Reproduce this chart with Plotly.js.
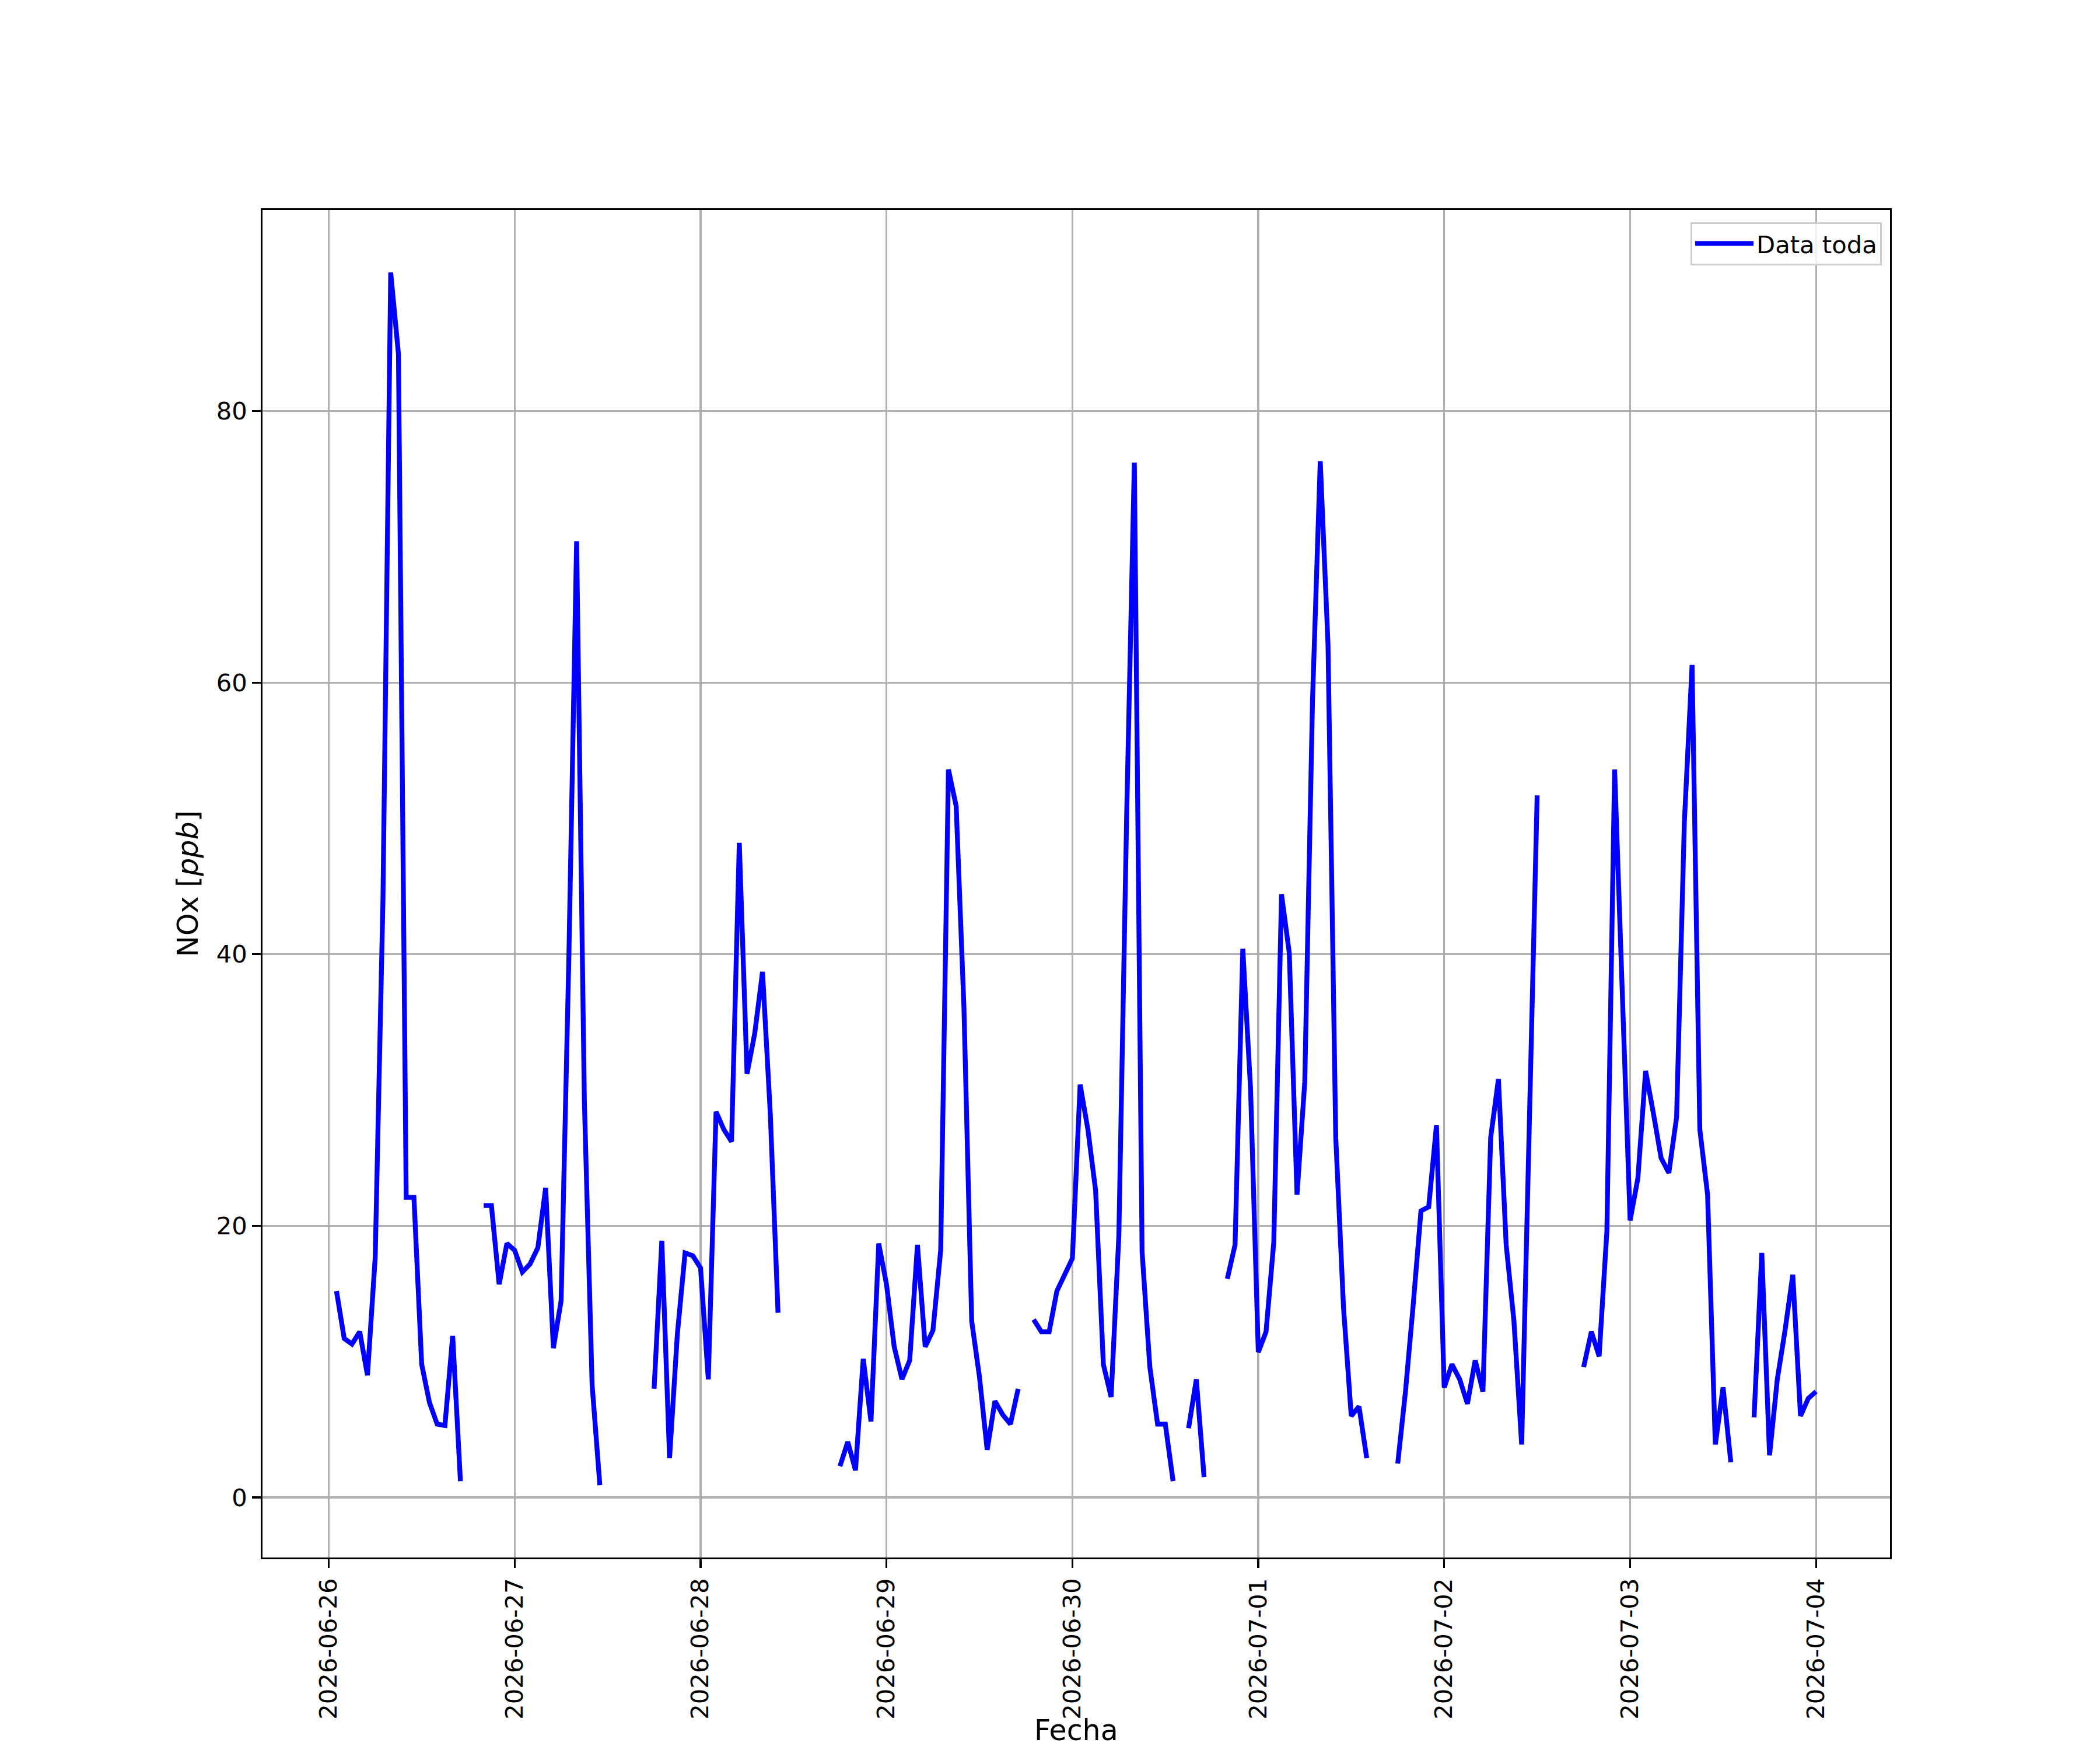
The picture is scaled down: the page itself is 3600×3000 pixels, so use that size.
<!DOCTYPE html>
<html>
<head>
<meta charset="utf-8">
<script src="https://cdn.plot.ly/plotly-3.0.1.min.js"></script>
<style>
  html, body { margin: 0; padding: 0; background: #ffffff; }
  #chart { width: 3600px; height: 3000px; }
</style>
</head>
<body>
<div id="chart"></div>
<script>
// Hourly NOx series, first sample at 2026-06-26 01:00, one value per hour (null = missing)
const seriesStart = '2026-06-26T01:00:00';
const seriesName = 'Data toda';
const noxValues = [
  // 06-26 01:00 .. 06-26 23:00
  15.2, 11.7, 11.3, 12.2, 9.0, 17.7, 44.0, 90.2, 84.2, 22.1, 22.1, 9.8,
  7.0, 5.4, 5.3, 11.9, 1.2, null, null, 21.5, 21.5, 15.7, 18.7,
  // 06-27 00:00 .. 23:00
  18.2, 16.6, 17.2, 18.4, 22.8, 11.0, 14.5, 39.8, 70.4, 29.2, 8.3, 0.9,
  null, null, null, null, null, null, 8.0, 18.9, 2.9, 12.0, 18.0, 17.8,
  // 06-28 00:00 .. 23:00
  16.9, 8.7, 28.4, 27.1, 26.2, 48.2, 31.2, 34.2, 38.7, 28.3, 13.6, null,
  null, null, null, null, null, null, 2.3, 4.1, 2.0, 10.2, 5.6, 18.7,
  // 06-29 00:00 .. 23:00
  15.7, 11.1, 8.7, 10.1, 18.6, 11.1, 12.3, 18.2, 53.6, 50.9, 36.1, 13.0,
  8.9, 3.5, 7.1, 6.1, 5.4, 8.0, null, 13.1, 12.2, 12.2, 15.2, 16.4,
  // 06-30 00:00 .. 23:00
  17.6, 30.4, 27.1, 22.6, 9.8, 7.4, 19.3, 50.0, 76.2, 18.1, 9.6, 5.4,
  5.4, 1.2, null, 5.1, 8.7, 1.5, null, null, 16.1, 18.6, 40.4, 30.1,
  // 07-01 00:00 .. 23:00
  10.7, 12.2, 18.8, 44.4, 40.1, 22.3, 30.6, 58.7, 76.3, 62.8, 26.5, 14.0,
  6.0, 6.7, 2.9, null, null, null, 2.5, 7.8, 14.2, 21.1, 21.4, 27.4,
  // 07-02 00:00 .. 23:00
  8.1, 9.8, 8.7, 6.9, 10.1, 7.8, 26.5, 30.8, 18.6, 13.0, 3.9, 28.0,
  51.7, null, null, null, null, null, 9.6, 12.2, 10.4, 19.6, 53.6, 36.1,
  // 07-03 00:00 .. 23:00
  20.4, 23.5, 31.4, 28.3, 25.0, 23.9, 28.0, 49.7, 61.3, 27.1, 22.3, 3.9,
  8.1, 2.6, null, null, 5.9, 18.0, 3.1, 8.7, 12.3, 16.4, 6.0, 7.3,
  // 07-04 00:00
  7.8
];
const xTickStart = '2026-06-26';
const xTickFormat = '%Y-%m-%d';
const yTickValues = [0, 20, 40, 60, 80];
const xAxisTitle = 'Fecha';
const yAxisTitle = 'NOx [<i>ppb</i>]';

// hourly time stamps for the samples
function pad(n) { return (n < 10 ? '0' : '') + n; }
const t0 = Date.parse(seriesStart + 'Z');
const times = noxValues.map((_, i) => {
  const d = new Date(t0 + i * 3600000);
  return d.getUTCFullYear() + '-' + pad(d.getUTCMonth() + 1) + '-' + pad(d.getUTCDate()) +
         ' ' + pad(d.getUTCHours()) + ':00:00';
});

const FONT = 'DejaVu Sans, Liberation Sans, sans-serif';

const trace = {
  type: 'scatter',
  mode: 'lines',
  x: times,
  y: noxValues,
  name: seriesName,
  connectgaps: false,
  line: { color: '#0000ff', width: 8.3 },
  showlegend: true
};

const axisCommon = {
  showline: true,
  linecolor: '#000000',
  linewidth: 3.3,
  mirror: true,
  ticks: 'outside',
  ticklen: 14.6,
  tickwidth: 3.3,
  tickcolor: '#000000',
  showgrid: true,
  gridcolor: '#b0b0b0',
  gridwidth: 3.3,
  zeroline: false,
  tickfont: { family: FONT, size: 41.7, color: '#000000' }
};

const layout = {
  width: 3600,
  height: 3000,
  margin: { l: 450, r: 360, t: 360, b: 330, pad: 0 },
  paper_bgcolor: '#ffffff',
  plot_bgcolor: '#ffffff',
  font: { family: FONT, color: '#000000' },
  xaxis: Object.assign({}, axisCommon, {
    type: 'date',
    range: ['2026-06-25 15:27:00', '2026-07-04 09:33:00'],
    tickmode: 'linear',
    tick0: xTickStart,
    dtick: 86400000,
    tickformat: xTickFormat,
    tickangle: -90,
    ticklabelstandoff: 1
  }),
  yaxis: Object.assign({}, axisCommon, {
    range: [-4.42, 94.8],
    tickmode: 'array',
    tickvals: yTickValues,
    ticktext: yTickValues.map(String),
    ticklabelstandoff: 0,
    title: { text: yAxisTitle, font: { family: FONT, size: 49, color: '#000000' }, standoff: 16 }
  }),
  annotations: [{
    text: xAxisTitle,
    xref: 'paper', yref: 'paper',
    x: 0.5, y: -0.1415,
    xanchor: 'center', yanchor: 'bottom',
    showarrow: false,
    font: { family: FONT, size: 49, color: '#000000' }
  }],
  legend: {
    x: 0.995, xanchor: 'right',
    y: 0.991, yanchor: 'top',
    bgcolor: 'rgba(255,255,255,0.8)',
    bordercolor: '#cccccc',
    borderwidth: 3,
    itemwidth: 100,
    font: { family: FONT, size: 41.7, color: '#000000' }
  },
  showlegend: true
};

Plotly.newPlot('chart', [trace], layout, { displayModeBar: false, staticPlot: true });
</script>
</body>
</html>
